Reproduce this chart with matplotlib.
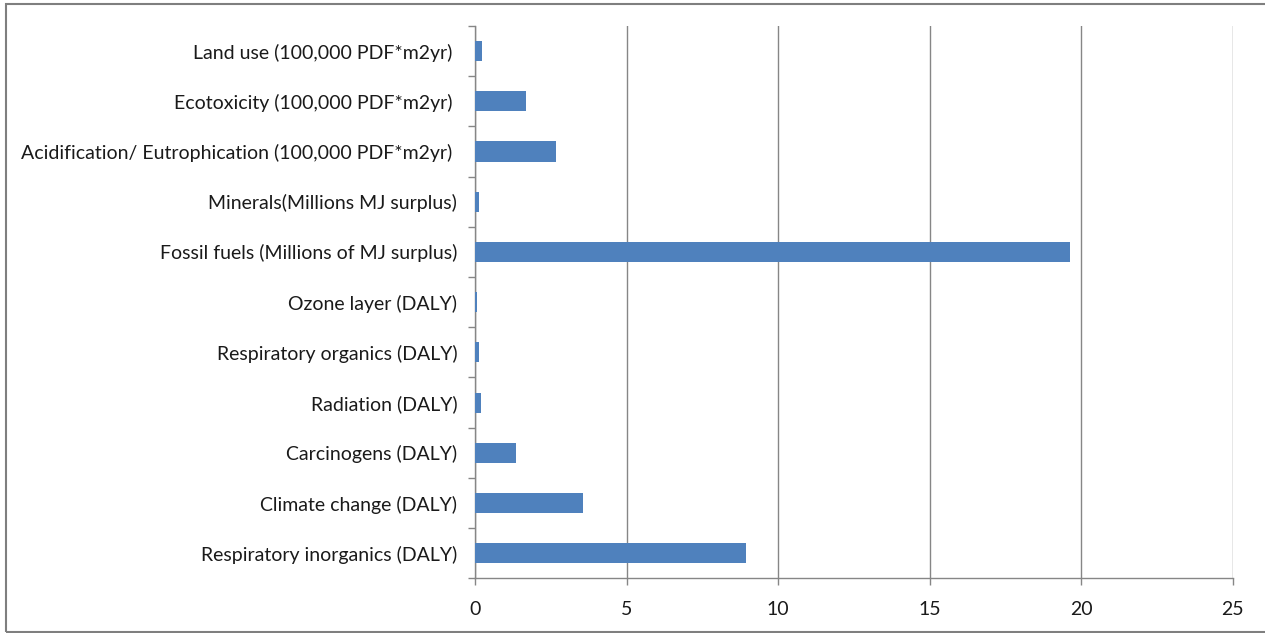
import matplotlib
matplotlib.use("Agg")
import matplotlib.pyplot as plt
from matplotlib.patches import Rectangle
from matplotlib.ticker import FixedLocator

# ---------------------------------------------------------------------------
# Data (bottom to top, as drawn)
# ---------------------------------------------------------------------------
CATEGORIES = [
    "Respiratory inorganics (DALY)",
    "Climate change (DALY)",
    "Carcinogens (DALY)",
    "Radiation (DALY)",
    "Respiratory organics (DALY)",
    "Ozone layer (DALY)",
    "Fossil fuels (Millions of MJ surplus)",
    "Minerals(Millions MJ surplus)",
    "Acidification/ Eutrophication (100,000 PDF*m2yr) ",
    "Ecotoxicity (100,000 PDF*m2yr) ",
    "Land use (100,000 PDF*m2yr) ",
]
VALUES = [8.92, 3.57, 1.34, 0.19, 0.12, 0.05, 19.62, 0.12, 2.65, 1.67, 0.22]

X_TICKS = [0, 5, 10, 15, 20, 25]

BAR_COLOR = "#4F81BD"
GRID_COLOR = "#868686"
TEXT_COLOR = "#1a1a1a"

plt.rcParams["font.family"] = ["Lato", "DejaVu Sans"]

fig = plt.figure(figsize=(12.65, 6.33), dpi=100)
ax = fig.add_axes([0.3757, 0.0864, 0.5988, 0.8726])

pos = list(range(len(CATEGORIES)))
ax.barh(pos, VALUES, height=0.4, color=BAR_COLOR, zorder=3)

ax.set_xlim(0, 25)
ax.set_ylim(-0.5, len(CATEGORIES) - 0.5)
ax.set_xticks(X_TICKS)
ax.set_xticklabels([str(t) for t in X_TICKS])
ax.set_yticks(pos)
ax.set_yticklabels(CATEGORIES)

# category boundary ticks on y axis
ax.yaxis.set_minor_locator(FixedLocator([p - 0.5 for p in pos] + [len(pos) - 0.5]))
ax.tick_params(axis="y", which="major", length=0, pad=13, labelsize=14, labelcolor=TEXT_COLOR)
ax.tick_params(axis="y", which="minor", length=5, width=1, color=GRID_COLOR)
ax.tick_params(axis="x", which="major", length=5, width=1, color=GRID_COLOR,
               pad=11, labelsize=14, labelcolor=TEXT_COLOR)

ax.grid(axis="x", color=GRID_COLOR, linewidth=1, zorder=0)
for s in ["top", "right"]:
    ax.spines[s].set_visible(False)
for s in ["left", "bottom"]:
    ax.spines[s].set_color(GRID_COLOR)
    ax.spines[s].set_linewidth(1)

# chart area frame
fig.patches.append(Rectangle((6 / 1265, 1 / 633), 1.0, 628 / 633, transform=fig.transFigure,
                             fill=False, edgecolor="#7f7f7f", linewidth=1.5))

fig.savefig("out.png", dpi=100)
